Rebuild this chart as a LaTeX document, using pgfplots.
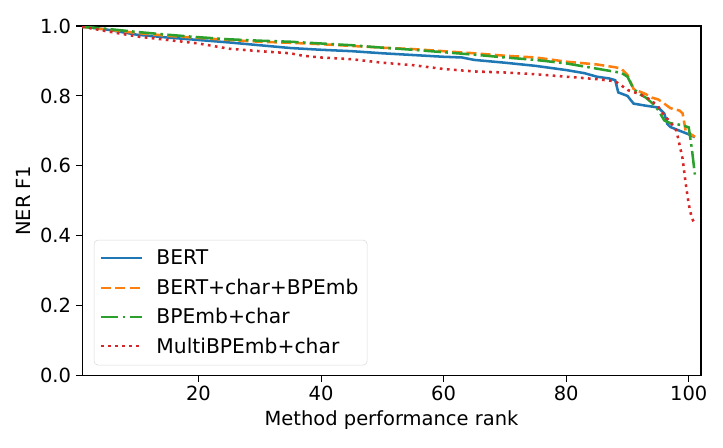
\documentclass[border=0pt]{standalone}
\usepackage{pgfplots}
\pgfplotsset{compat=1.18}
\usepackage{fontspec}
\setmainfont{DejaVu Sans}
\definecolor{tabblue}{HTML}{1F77B4}
\definecolor{taborange}{HTML}{FF7F0E}
\definecolor{tabgreen}{HTML}{2CA02C}
\definecolor{tabred}{HTML}{D62728}
\begin{document}
\begin{tikzpicture}
\begin{axis}[
  scale only axis,
  width=464pt, height=262pt,
  xmin=1, xmax=102, ymin=0, ymax=1,
  xtick={20,40,60,80,100},
  ytick={0,0.2,0.4,0.6,0.8,1.0},
  yticklabel style={/pgf/number format/.cd,fixed,fixed zerofill,precision=1},
  /pgf/number format/assume math mode=true,
  tick align=outside, tickpos=left,
  major tick length=4.7pt,
  tick style={black, line width=0.8pt},
  axis line style={line width=0.8pt},
  font=\fontsize{14.6}{17}\selectfont,
  xlabel={Method performance rank},
  ylabel={NER F1},
  legend cell align=left,
  legend style={at={(0.019,0.029)}, anchor=south west, draw=black!15, rounded corners=3pt,
    font=\fontsize{15.2}{18}\selectfont, row sep=5pt, inner xsep=4.5pt, inner ysep=5.5pt},
  legend image code/.code={\path[draw=none] (0pt,0pt) -- (39.5pt,0pt);\draw[#1, line width=1.5pt] (0pt,0pt) -- (31pt,0pt);},
  every axis plot/.append style={line width=1.9pt},
]
\coordinate (bl) at (rel axis cs:0,0);
\coordinate (tr) at (rel axis cs:1,1);
\addplot[tabblue, solid] coordinates {
(1,0.998) (5,0.99) (10,0.975) (15,0.967) (20,0.96) (25,0.953) (30,0.945) (35,0.937)
(40,0.932) (45,0.928) (50,0.922) (55,0.917) (60,0.912) (63,0.910) (65,0.903) (70,0.895)
(75,0.886) (80,0.874) (83,0.865) (85,0.855) (87,0.850) (88,0.845) (88.5,0.81) (90,0.80)
(91,0.778) (93,0.772) (95,0.767) (96,0.75) (96.5,0.72) (97,0.711) (99,0.697) (100,0.69) (101,0.682)
};
\addlegendentry{BERT}
\addplot[taborange, dash pattern=on 7.5pt off 3.2pt] coordinates {
(1,0.998) (5,0.99) (10,0.98) (15,0.972) (20,0.966) (25,0.96) (30,0.955) (35,0.952)
(40,0.948) (45,0.943) (50,0.938) (55,0.934) (60,0.928) (65,0.922) (70,0.915) (75,0.91)
(80,0.898) (85,0.89) (88,0.882) (89,0.878) (90,0.86) (91,0.82) (93,0.805) (94,0.795)
(95,0.79) (96,0.778) (97,0.765) (98.5,0.758) (99,0.75) (99.5,0.70) (101,0.683)
};
\addlegendentry{BERT+char+BPEmb}
\addplot[tabgreen, dash pattern=on 13pt off 3.2pt on 2pt off 3.2pt] coordinates {
(1,0.998) (5,0.992) (10,0.983) (15,0.975) (20,0.968) (25,0.962) (30,0.958) (35,0.955)
(40,0.95) (45,0.945) (50,0.938) (55,0.932) (60,0.925) (65,0.918) (70,0.91) (75,0.903)
(80,0.893) (85,0.878) (89,0.866) (90,0.855) (91,0.82) (92,0.805) (93,0.795) (94,0.78)
(95,0.76) (96,0.73) (97,0.722) (99,0.716) (100,0.71) (100.5,0.65) (101,0.575)
};
\addlegendentry{BPEmb+char}
\addplot[tabred, dash pattern=on 2pt off 3.3pt] coordinates {
(1,0.998) (5,0.985) (10,0.97) (15,0.96) (20,0.95) (25,0.935) (30,0.928) (35,0.922)
(37,0.915) (40,0.91) (45,0.905) (50,0.895) (55,0.888) (60,0.877) (65,0.87) (70,0.867)
(75,0.862) (80,0.855) (85,0.848) (88,0.842) (89,0.83) (90,0.817) (92,0.805) (93,0.797)
(94,0.785) (95,0.77) (96,0.745) (97,0.725) (98,0.70) (98.5,0.66) (99,0.62) (99.5,0.55)
(100,0.49) (100.5,0.45) (101,0.435)
};
\addlegendentry{MultiBPEmb+char}
\end{axis}
\pgfresetboundingbox
\path[use as bounding box] ([shift={(-61.5pt,-54pt)}]bl) rectangle ([shift={(16.5pt,19.5pt)}]tr);
\end{tikzpicture}
\end{document}
